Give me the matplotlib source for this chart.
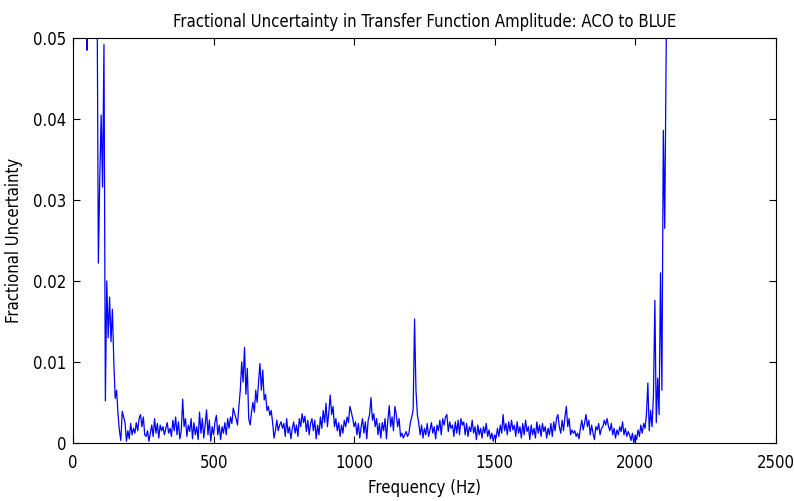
import numpy as np
import matplotlib
matplotlib.use('Agg')
import matplotlib.pyplot as plt

plt.rcParams['font.family'] = ['DejaVu Sans']
plt.rcParams['font.stretch'] = 'condensed'

# fractional uncertainty, in units of 1e-3, sampled every 5 Hz from 40 Hz
unc_milli = [
    70, 70, 48.5, 75, 80, 80, 80, 80, 75, 60, 22.2, 32.5, 40.5, 31.6, 49.2, 5.2, 20, 13, 18, 12.5,
    16.5, 10, 5.5, 6.5, 3.5, 1.5, 0.3, 3.9, 3.2, 2.5, 0.2, 1.5, 0.5, 2.4, 1.0, 1.8, 1.2, 2.5, 1.5, 3.0,
    3.5, 2.0, 3.2, 1.0, 0.8, 1.5, 0.2, 1.2, 2.2, 0.8, 3.0, 1.2, 2.4, 0.6, 2.2, 1.5, 2.0, 1.0, 1.8, 2.5,
    1.2, 1.8, 0.8, 2.8, 1.5, 3.2, 1.0, 2.6, 0.5, 1.5, 5.4, 2.0, 3.0, 0.8, 2.2, 1.4, 3.0, 0.5, 2.5, 1.0,
    2.0, 0.4, 3.8, 1.2, 3.0, 0.6, 2.2, 4.1, 1.0, 2.8, 0.2, 2.0, 1.0, 2.6, 3.4, 1.0, 2.2, 0.4, 2.0, 1.2,
    2.5, 1.0, 3.0, 1.8, 3.2, 2.4, 4.3, 3.6, 3.0, 2.2, 4.5, 6.5, 10.0, 7.5, 11.8, 6.0, 9.2, 3.0, 2.2, 3.8,
    5.0, 3.8, 6.5, 5.0, 7.5, 9.8, 6.5, 9.0, 5.3, 6.0, 4.0, 4.5, 3.4, 4.0, 2.5, 0.6, 1.5, 2.8, 1.5, 2.2,
    2.6, 1.8, 2.4, 0.8, 3.0, 1.2, 2.0, 0.5, 1.8, 2.6, 1.2, 2.2, 0.8, 3.0, 2.0, 3.6, 2.5, 3.3, 1.4, 2.8,
    1.0, 2.4, 3.0, 1.5, 2.8, 0.5, 2.2, 1.0, 3.2, 1.8, 4.0, 2.5, 4.9, 2.0, 3.8, 5.9, 3.5, 4.5, 2.0, 3.0,
    1.5, 2.5, 0.8, 2.2, 1.2, 2.8, 2.0, 3.2, 2.5, 4.5, 3.8, 3.0, 2.0, 2.6, 1.0, 2.4, 0.6, 2.0, 3.0, 1.2,
    2.6, 0.5, 2.8, 3.5, 5.6, 2.8, 3.6, 2.0, 3.0, 1.0, 2.4, 0.6, 2.5, 1.5, 3.0, 0.5, 2.8, 4.6, 2.0, 3.2,
    1.5, 4.5, 3.5, 2.0, 3.0, 0.8, 1.2, 0.6, 1.0, 1.4, 0.8, 1.2, 2.5, 3.2, 4.1, 15.3, 6.5, 3.5, 2.4, 1.0,
    2.2, 0.6, 1.8, 1.0, 2.4, 0.8, 1.6, 2.5, 1.2, 2.0, 0.5, 2.2, 1.5, 2.8, 1.0, 3.0, 2.2, 3.2, 3.5, 1.4,
    2.6, 1.8, 2.2, 0.8, 2.6, 1.2, 2.8, 1.0, 3.0, 2.2, 2.6, 1.0, 2.4, 0.8, 2.0, 1.4, 2.8, 1.2, 2.0, 0.4,
    2.2, 1.0, 1.8, 0.6, 2.0, 1.2, 2.4, 0.8, 1.6, 0.5, 1.2, 0.2, 1.0, 0.6, 1.8, 0.8, 2.2, 1.2, 3.5, 1.5,
    2.4, 1.0, 2.6, 1.4, 2.8, 1.6, 2.2, 0.8, 2.6, 1.2, 2.0, 0.6, 2.4, 1.0, 2.8, 1.4, 2.0, 0.4, 2.2, 1.0,
    1.8, 0.6, 2.6, 1.2, 2.2, 0.8, 2.4, 1.4, 2.0, 0.6, 1.8, 1.0, 2.4, 0.8, 2.6, 1.5, 3.0, 3.5, 2.0, 1.2,
    2.8, 1.5, 3.2, 4.5, 2.0, 3.0, 1.0, 1.6, 1.2, 1.5, 0.8, 1.2, 0.5, 1.8, 2.8, 1.6, 2.5, 3.5, 2.0, 2.8,
    1.0, 2.2, 1.2, 0.4, 2.0, 1.6, 2.4, 1.0, 1.8, 2.0, 2.8, 2.2, 3.0, 2.0, 1.5, 2.4, 1.0, 1.8, 0.6, 1.6,
    1.0, 2.0, 1.4, 2.6, 1.0, 1.8, 0.8, 1.4, 1.0, 0.3, 1.2, 0.0, 1.0, 0.4, 1.6, 0.8, 2.2, 1.2, 2.4, 1.8,
    3.5, 7.4, 1.5, 4.0, 2.0, 6.0, 17.6, 2.5, 8.0, 3.5, 21.0, 6.5, 38.6, 26.5, 47.0, 70.0,
]
f_start = 40
f_step = 5

freq = f_start + f_step * np.arange(len(unc_milli))
unc = np.array(unc_milli) * 1e-3

xticks = [0, 500, 1000, 1500, 2000, 2500]
yticks = [0, 0.01, 0.02, 0.03, 0.04, 0.05]
ytick_labels = ['0', '0.01', '0.02', '0.03', '0.04', '0.05']

fig = plt.figure(figsize=(7.94, 5.01), dpi=100)
ax = fig.add_axes([0.092, 0.116, 0.885, 0.808])
ax.plot(freq, unc, color='#0000ff', linewidth=0.9)

ax.set_xlim(0, 2500)
ax.set_ylim(0, 0.05)
ax.set_xticks(xticks)
ax.set_yticks(yticks)
ax.set_yticklabels(ytick_labels)
ax.tick_params(direction='in', top=True, right=True, length=5, labelsize=12, width=0.8, pad=5)
ax.tick_params(axis='x', pad=8)
for s in ax.spines.values():
    s.set_linewidth(0.8)

ax.set_title('Fractional Uncertainty in Transfer Function Amplitude: ACO to BLUE', fontsize=12, pad=8)
ax.set_xlabel('Frequency (Hz)', fontsize=12, labelpad=5)
ax.set_ylabel('Fractional Uncertainty', fontsize=12, labelpad=7)

fig.savefig('out.png', dpi=100)
